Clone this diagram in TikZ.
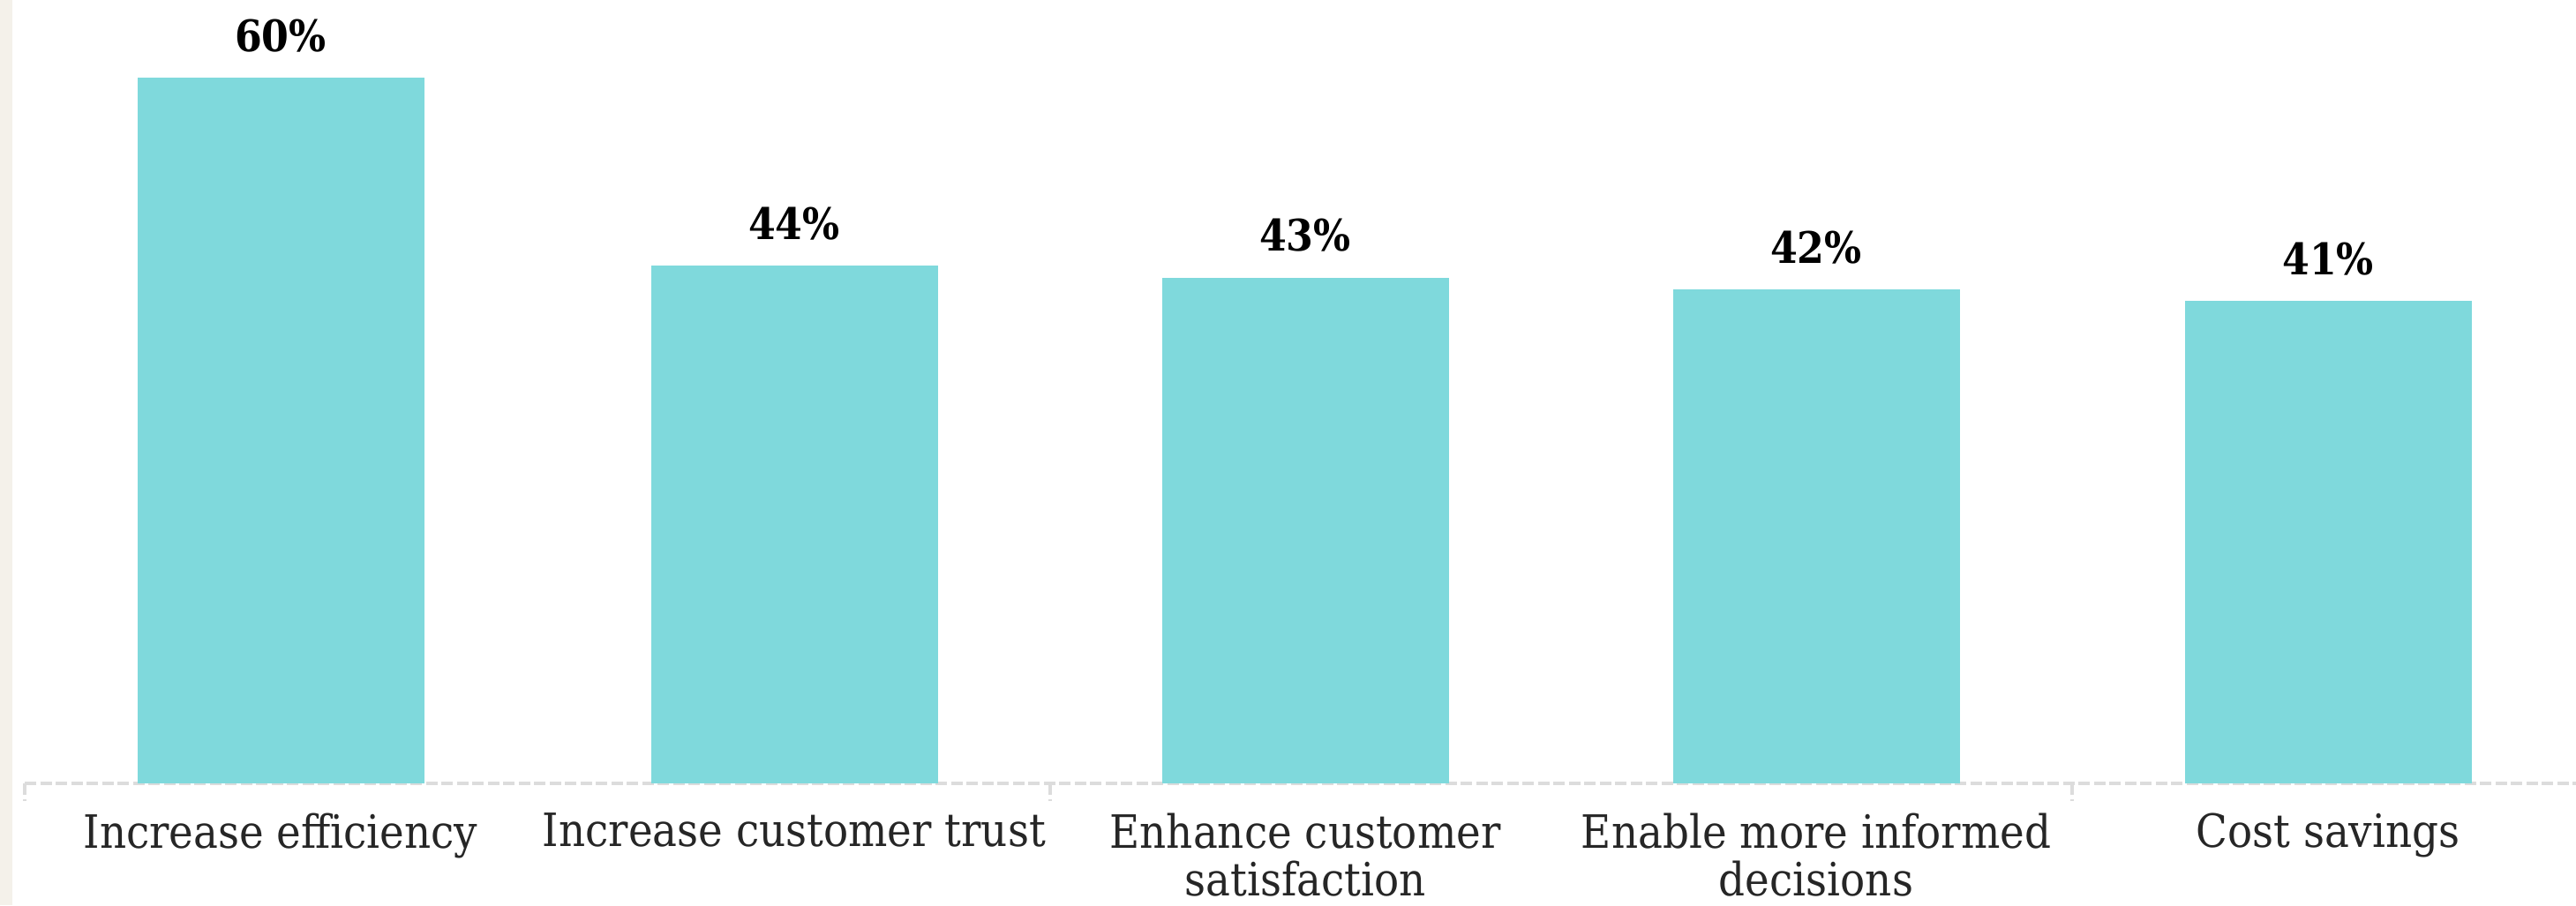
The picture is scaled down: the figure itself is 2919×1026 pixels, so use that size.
\documentclass[tikz,border=0pt]{standalone}
\usepackage{fontspec}
\setmainfont{DejaVu Serif Condensed}
\usetikzlibrary{positioning}
\definecolor{barcyan}{HTML}{7FD9DC}
\definecolor{axisgrey}{HTML}{DCDCDC}
\definecolor{sidebeige}{HTML}{F4F1EA}
\tikzset{%
  % Specifications for style of nodes:
         bar/.style = {rectangle, fill=barcyan, draw=none, inner sep=0pt,
                       outer sep=0pt, minimum width=32.5mm, anchor=south},
    valuetag/.style = {inner sep=0pt, anchor=base, text=black,
                       font=\fontsize{14}{16}\selectfont\bfseries},
    category/.style = {inner sep=0pt, anchor=north, align=center, text=black!85,
                       font=\fontsize{14.8}{15.4}\selectfont},
    axisline/.style = {draw=axisgrey, line width=0.35mm,
                       dash pattern=on 1.3mm off 0.45mm},
}
\begin{document}
\begin{tikzpicture}[x=0.1mm, y=-0.1mm, node distance=3mm]
\useasboundingbox (0,0) rectangle (2919,1026);
\fill[sidebeige] (0,0) rectangle (14,1026);

% axis and the ticks between groups
\coordinate (AxL) at (28,888);
\coordinate (AxR) at (2919,888);
\coordinate (TkA) at (28,908);
\coordinate (TkBtop) at (1190,888);
\coordinate (TkB) at (1190,908);
\coordinate (TkCtop) at (2348,888);
\coordinate (TkC) at (2348,908);
\draw[axisline] (AxL) -- (AxR);
\draw[axisline] (AxL) -- (TkA);
\draw[axisline] (TkBtop) -- (TkB);
\draw[axisline] (TkCtop) -- (TkC);

\node (Eff)   [bar, minimum height=80mm]    at (318,888)  {};
\node (Trust) [bar, minimum height=58.67mm] at (900,888)  {};
\node (Sat)   [bar, minimum height=57.33mm] at (1479,888) {};
\node (Dec)   [bar, minimum height=56mm]    at (2058,888) {};
\node (Cost)  [bar, minimum height=54.67mm] at (2638,888) {};

\node (EffVal)   [above=3mm of Eff, valuetag]   {60\%};
\node (TrustVal) [above=3mm of Trust, valuetag] {44\%};
\node (SatVal)   [above=3mm of Sat, valuetag]   {43\%};
\node (DecVal)   [above=3mm of Dec, valuetag]   {42\%};
\node (CostVal)  [above=3mm of Cost, valuetag]  {41\%};

\node (EffLbl)   [below=3.3mm of Eff, category]   {Increase efficiency};
\node (TrustLbl) [below=3.3mm of Trust, category] {Increase customer trust};
\node (SatLbl)   [below=3.3mm of Sat, category]   {Enhance customer\\satisfaction};
\node (DecLbl)   [below=3.3mm of Dec, category]   {Enable more informed\\decisions};
\node (CostLbl)  [below=3.3mm of Cost, category]  {Cost savings};
\end{tikzpicture}
\end{document}
